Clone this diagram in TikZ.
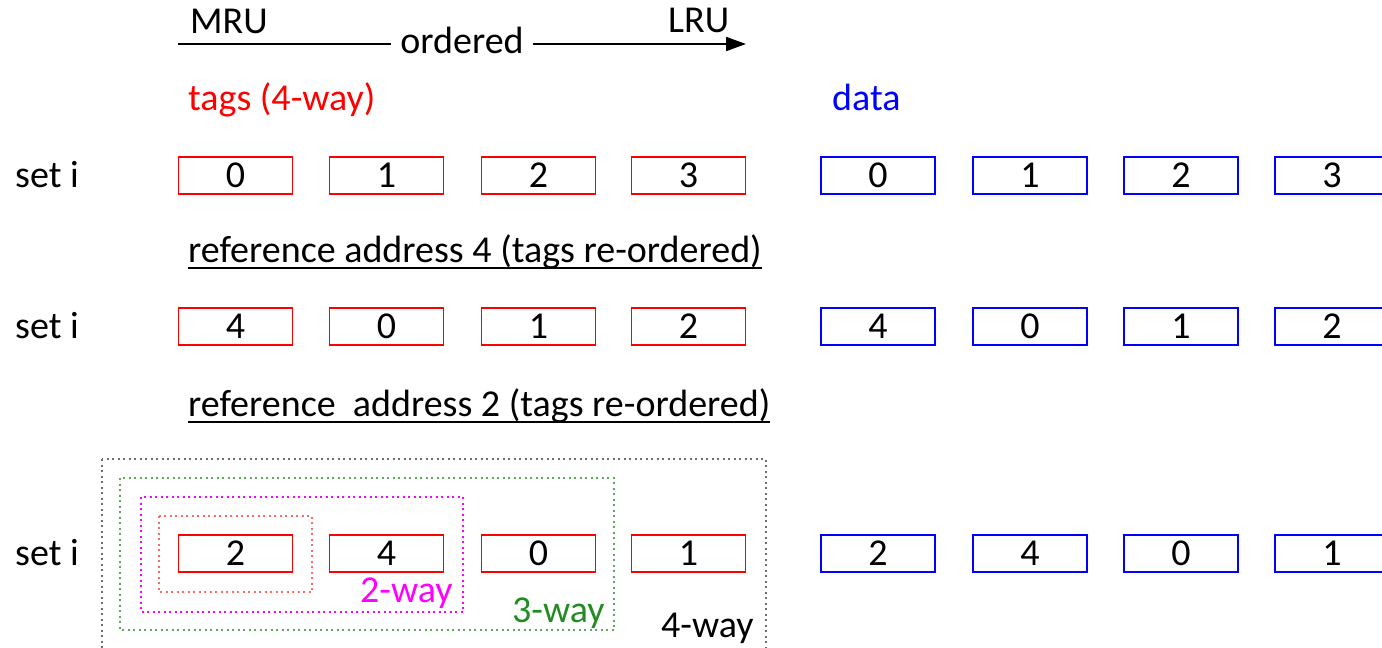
\documentclass[tikz,border=0pt]{standalone}
\usepackage{fontspec}
\setmainfont{Carlito}
\usetikzlibrary{arrows.meta}
\definecolor{tagred}{RGB}{255,0,0}
\definecolor{datablue}{RGB}{0,0,255}
\definecolor{wmag}{RGB}{255,0,255}
\definecolor{wgreen}{RGB}{34,139,34}
\definecolor{dgreen}{RGB}{90,170,90}
\definecolor{dred}{RGB}{245,110,100}
\definecolor{dgray}{RGB}{110,110,110}
\tikzset{
  txt/.style={font=\fontsize{38}{45}\selectfont, inner sep=0pt, anchor=base west},
  tagbox/.style={draw=tagred, line width=1.8pt, minimum width=114pt, minimum height=37pt, inner sep=0pt, font=\fontsize{38}{45}\selectfont},
  databox/.style={draw=datablue, line width=1.8pt, minimum width=114pt, minimum height=37pt, inner sep=0pt, font=\fontsize{38}{45}\selectfont},
  dotbox/.style={line width=1.4pt, dash pattern=on 2pt off 3.5pt},
}
\begin{document}
\begin{tikzpicture}[x=1pt,y=-1pt]
\useasboundingbox (0,0) rectangle (1382,648);
\clip (0,0) rectangle (1382,648);
% header
\node[txt] (mru) at (190,33) {MRU};
\node[txt] (lru) at (668,32) {LRU};
\node[font=\fontsize{38}{45}\selectfont, inner sep=0pt, anchor=base] (ord) at (462,53) {ordered};
\coordinate (as) at (178,44);
\coordinate (am) at (391,44);
\coordinate (an) at (533,44);
\coordinate (ae) at (746,44);
\draw[line width=1.8pt] (as) -- (am);
\draw[line width=1.8pt, -{Triangle[length=20pt,width=14pt]}] (an) -- (ae);
\node[txt, text=tagred] (tags) at (188,110) {tags (4-way)};
\node[txt, text=datablue] (data) at (832,110) {data};
% set labels
\node[txt] (s1) at (15,187) {set i};
\node[txt] (s2) at (15,338) {set i};
\node[txt] (s3) at (15,565) {set i};
% row 1
\foreach \x/\t [count=\i] in {235.5/0,386.5/1,538.5/2,688.5/3}
  \node[tagbox] (ra\i) at (\x,175.5) {\t};
\foreach \x/\t [count=\i] in {878/0,1030/1,1181/2,1332/3}
  \node[databox] (da\i) at (\x,175.5) {\t};
% ref 1
\node[txt] (ref1) at (188,262) {reference address 4 (tags re-ordered)};
\draw[line width=1.4pt] ([yshift=-6pt]ref1.base west) -- ([yshift=-6pt]ref1.base east);
% row 2
\foreach \x/\t [count=\i] in {235.5/4,386.5/0,538.5/1,688.5/2}
  \node[tagbox] (rb\i) at (\x,326.5) {\t};
\foreach \x/\t [count=\i] in {878/4,1030/0,1181/1,1332/2}
  \node[databox] (db\i) at (\x,326.5) {\t};
% ref 2
\node[txt] (ref2) at (188,416) {reference\ \ address 2 (tags re-ordered)};
\draw[line width=1.4pt] ([yshift=-6pt]ref2.base west) -- ([yshift=-6pt]ref2.base east);
% row 3
\foreach \x/\t [count=\i] in {235.5/2,386.5/4,538.5/0,688.5/1}
  \node[tagbox] (rc\i) at (\x,553.5) {\t};
\foreach \x/\t [count=\i] in {878/2,1030/4,1181/0,1332/1}
  \node[databox] (dc\i) at (\x,553.5) {\t};
% dotted way boxes
\draw[dotbox, draw=dgray] (102,459) rectangle (766,670);
\draw[dotbox, draw=dgreen] (120,478) rectangle (614,630);
\draw[dotbox, draw=wmag] (141,497) rectangle (463,612);
\draw[dotbox, draw=dred] (159,516) rectangle (312,592);
\node[txt, text=wmag] (w2) at (360,602) {2-way};
\node[txt, text=wgreen] (w3) at (512,622) {3-way};
\node[txt] (w4) at (661,637) {4-way};
\end{tikzpicture}
\end{document}
